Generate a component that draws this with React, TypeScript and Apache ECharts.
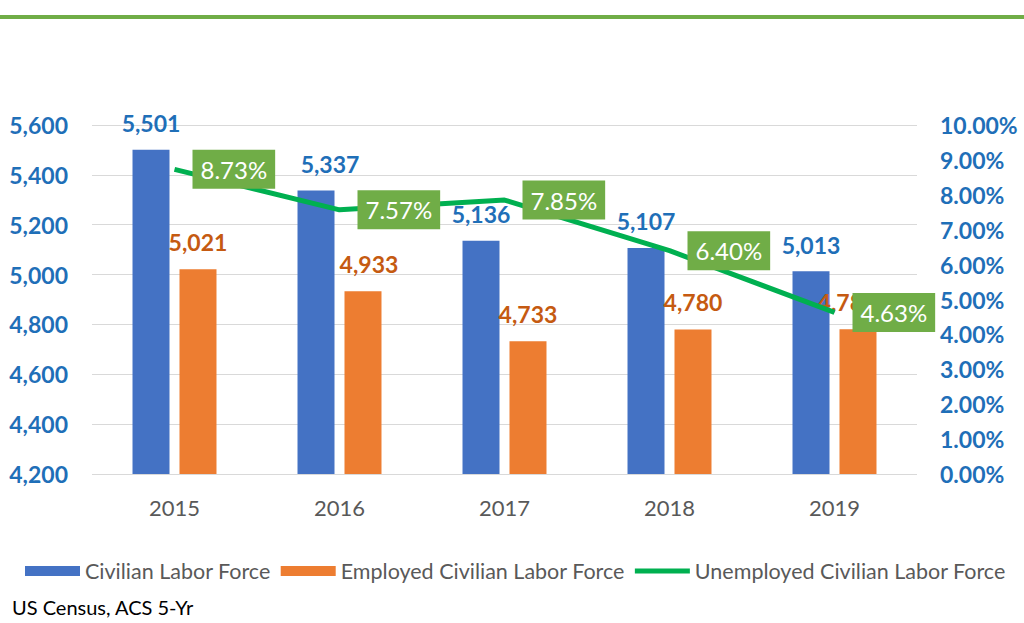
import React, { useEffect, useRef } from "react";
import * as echarts from "echarts";

const categories = ["2015", "2016", "2017", "2018", "2019"];
const civilianLaborForce = [5501, 5337, 5136, 5107, 5013];
const employedLaborForce = [5021, 4933, 4733, 4780, 4781];
const unemployedRate = [8.73, 7.57, 7.85, 6.4, 4.63];
const seriesNames = ["Civilian Labor Force", "Employed Civilian Labor Force", "Unemployed Civilian Labor Force"];
const sourceText = "US Census, ACS 5-Yr";

const FONT = "Lato";
const BLUE_TXT = "#1f6fb8";
const ORANGE_TXT = "#c55a11";

export default function App() {
  const ref = useRef<HTMLDivElement>(null);
  useEffect(() => {
    if (!ref.current) return;
    const chart = echarts.init(ref.current, undefined, { renderer: "svg" });
    const fmt = (v: number) => v.toLocaleString("en-US");
    chart.setOption({
      animation: false,
      backgroundColor: "#ffffff",
      textStyle: { fontFamily: FONT },
      grid: { left: 92, right: 107, top: 125, bottom: 149, containLabel: false },
      graphic: [
        { type: "rect", shape: { x: 0, y: 15, width: 1024, height: 4 }, style: { fill: "#70ad47" } },
        {
          type: "text",
          x: 12,
          y: 607,
          style: { text: sourceText, fill: "#000000", font: `20px ${FONT}`, textVerticalAlign: "middle" },
        },
      ],
      legend: {
        left: 20,
        top: 555,
        itemWidth: 55,
        itemHeight: 10,
        itemGap: 10,
        textStyle: { fontFamily: FONT, fontSize: 21.5, color: "#595959" },
        data: [
          { name: seriesNames[0], icon: "rect" },
          { name: seriesNames[1], icon: "rect" },
          { name: seriesNames[2], icon: "path://M0,0 L55,0 L55,5 L0,5 Z" },
        ],
      },
      xAxis: {
        type: "category",
        data: categories,
        axisLine: { show: false },
        axisTick: { show: false },
        axisLabel: { color: "#595959", fontSize: 22, fontFamily: FONT, margin: 22 },
      },
      yAxis: [
        {
          type: "value",
          min: 4200,
          max: 5600,
          interval: 200,
          axisLine: { show: false },
          axisTick: { show: false },
          splitLine: { lineStyle: { color: "#d9d9d9", width: 1 } },
          axisLabel: {
            color: BLUE_TXT,
            fontSize: 23,
            fontWeight: "bold",
            fontFamily: FONT,
            margin: 24,
            formatter: (v: number) => fmt(v),
          },
        },
        {
          type: "value",
          min: 0,
          max: 10,
          interval: 1,
          axisLine: { show: false },
          axisTick: { show: false },
          splitLine: { show: false },
          axisLabel: {
            color: BLUE_TXT,
            fontSize: 23,
            fontWeight: "bold",
            fontFamily: FONT,
            margin: 23,
            formatter: (v: number) => v.toFixed(2) + "%",
          },
        },
      ],
      series: [
        {
          name: seriesNames[0],
          type: "bar",
          barWidth: 37,
          barGap: "27%",
          itemStyle: { color: "#4472c4" },
          data: civilianLaborForce.map((v, i) => ({
            value: v,
            label: i === 1 ? { offset: [14, 0] } : undefined,
          })),
          label: {
            show: true,
            position: "top",
            distance: 15,
            color: BLUE_TXT,
            fontSize: 23,
            fontWeight: "bold",
            fontFamily: FONT,
            formatter: (p: any) => fmt(p.value),
          },
        },
        {
          name: seriesNames[1],
          type: "bar",
          barWidth: 37,
          itemStyle: { color: "#ed7d31" },
          data: employedLaborForce.map((v, i) => ({
            value: v,
            label: i === 1 ? { offset: [6, 0] } : i === 4 ? { offset: [-11, 0] } : undefined,
          })),
          label: {
            show: true,
            position: "top",
            distance: 16,
            color: ORANGE_TXT,
            fontSize: 23,
            fontWeight: "bold",
            fontFamily: FONT,
            formatter: (p: any) => fmt(p.value),
          },
        },
        {
          name: seriesNames[2],
          type: "line",
          yAxisIndex: 1,
          z: 5,
          symbol: "none",
          lineStyle: { color: "#00b050", width: 5 },
          itemStyle: { color: "#00b050" },
          data: unemployedRate,
        },
        {
          name: "rateLabels",
          type: "scatter",
          yAxisIndex: 1,
          z: 6,
          symbolSize: 2,
          itemStyle: { color: "rgba(0,0,0,0)", opacity: 1 },
          data: unemployedRate,
          label: {
            show: true,
            position: "right",
            distance: 17,
            color: "#ffffff",
            fontSize: 24,
            lineHeight: 26,
            fontFamily: FONT,
            backgroundColor: "#70ad47",
            padding: [7, 8, 6, 8],
            formatter: (p: any) => Number(p.value).toFixed(2) + "%",
          },
        },
      ],
    });
    return () => chart.dispose();
  }, []);
  return <div ref={ref} style={{ position: "fixed", left: 0, top: 0, width: 1024, height: 623 }} />;
}
